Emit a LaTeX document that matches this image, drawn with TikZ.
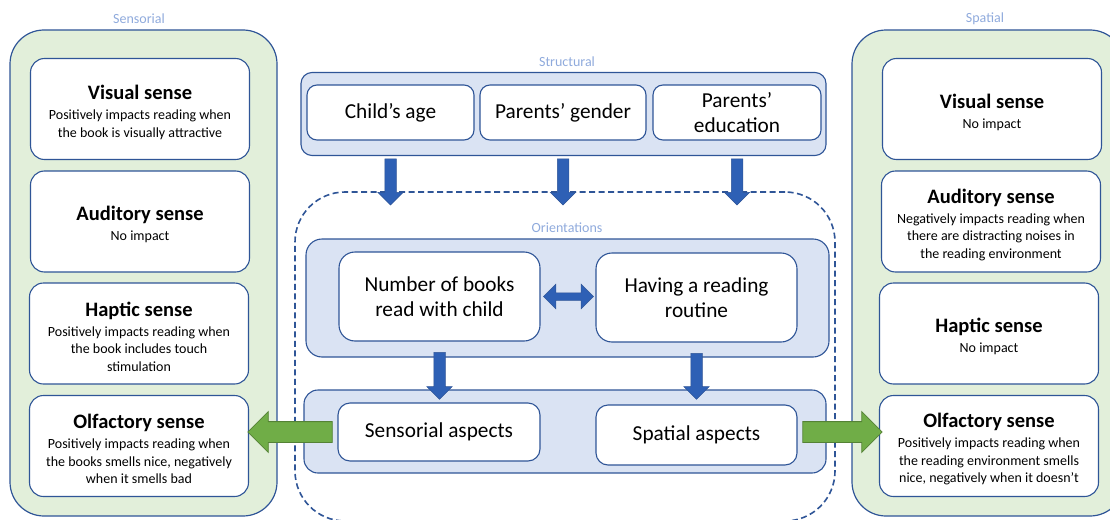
\documentclass[tikz,border=0pt]{standalone}
\usepackage{fontspec}
\setmainfont{Carlito}
\usetikzlibrary{shapes.arrows,calc}

\definecolor{panelgreen}{HTML}{E2EFDA}
\definecolor{groupblue}{HTML}{DAE3F3}
\definecolor{edgeblue}{HTML}{2F5597}
\definecolor{labelblue}{HTML}{8FAADC}
\definecolor{arrowblue}{HTML}{2E60B5}
\definecolor{arrowgreen}{HTML}{70AD47}
\definecolor{arrowgreenedge}{HTML}{548235}

\newcommand{\sensetitle}[1]{{\fontsize{20.5}{22}\selectfont\bfseries\rule{0pt}{21pt}#1}}

\tikzset{
  panel/.style={draw=edgeblue, fill=panelgreen, line width=1.2pt, rounded corners=34pt},
  group/.style={draw=edgeblue, fill=groupblue, line width=1.1pt, rounded corners=13pt, inner sep=0pt},
  cell/.style={draw=edgeblue, fill=white, line width=1.1pt, rounded corners=14pt, align=center, inner sep=0pt, font=\fontsize{21.3}{25}\selectfont},
  sensecell/.style={cell, minimum width=219pt, minimum height=101pt, font=\fontsize{14}{17.5}\selectfont},
  grouplabel/.style={text=labelblue, font=\fontsize{14}{16}\selectfont},
  orientframe/.style={draw=edgeblue, line width=1.6pt, dash pattern=on 6pt off 3.5pt, rounded corners=50pt, inner sep=0pt},
  blockarrow/.style={to path={let \p1=($(\tikztotarget)-(\tikztostart)$), \n1={veclen(\x1,\y1)}, \n2={atan2(\y1,\x1)} in
    node[#1, minimum height=\n1, rotate=\n2] at ($(\tikztostart)!.5!(\tikztotarget)$) {}}},
  bluearrow/.style={single arrow, fill=arrowblue, draw=edgeblue, line width=.5pt, inner xsep=0pt, inner ysep=5.5pt, single arrow head extend=7pt, minimum width=0pt},
  bluedarrow/.style={double arrow, fill=arrowblue, draw=edgeblue, line width=.5pt, inner xsep=0pt, inner ysep=3.5pt, double arrow head extend=8.5pt, minimum width=0pt},
  greenarrow/.style={single arrow, fill=arrowgreen, draw=arrowgreenedge, line width=.8pt, inner xsep=0pt, inner ysep=10pt, single arrow head extend=10pt, minimum width=0pt},
}

\begin{document}
\begin{tikzpicture}[x=1pt,y=-1pt]
\useasboundingbox (0,0) rectangle (1110,519);
\clip (0,0) rectangle (1110,519);

% side panels
\draw[panel] (10,30) rectangle (277,516);
\draw[panel] (852,30) rectangle (1124,516);
\node[grouplabel] (senslabel) at (139,19) {Sensorial};
\node[grouplabel] (spatlabel) at (985,19) {Spatial};

% senses, sensorial side
\node[sensecell] (lvis) at (140,109) {\sensetitle{Visual sense}\\[2.5pt]Positively impacts reading when\\the book is visually attractive};
\node[sensecell] (laud) at (140,221.5) {\sensetitle{Auditory sense}\\[2.5pt]No impact};
\node[sensecell] (lhap) at (139,333.5) {\sensetitle{Haptic sense}\\[2.5pt]Positively impacts reading when\\the book includes touch\\stimulation};
\node[sensecell] (lolf) at (139,446) {\sensetitle{Olfactory sense}\\[2.5pt]Positively impacts reading when\\the books smells nice, negatively\\when it smells bad};

% senses, spatial side
\node[sensecell] (rvis) at (992,109) {\sensetitle{Visual sense}\\[2.5pt]No impact};
\node[sensecell] (raud) at (991,221.5) {\sensetitle{Auditory sense}\\[2.5pt]Negatively impacts reading when\\there are distracting noises in\\the reading environment};
\node[sensecell] (rhap) at (989,333.5) {\sensetitle{Haptic sense}\\[2.5pt]No impact};
\node[sensecell] (rolf) at (989,446) {\sensetitle{Olfactory sense}\\[2.5pt]Positively impacts reading when\\the reading environment smells\\nice, negatively when it doesn’t};

% structural factors
\node[grouplabel] (structlabel) at (567,62) {Structural};
\node[group, minimum width=525pt, minimum height=83pt, rounded corners=11pt] (struct) at (563.5,114) {};
\node[cell, minimum width=167pt, minimum height=55pt, rounded corners=10pt] (age) at (390.5,112.5) {Child’s age};
\node[cell, minimum width=166pt, minimum height=55pt, rounded corners=10pt] (gender) at (563,112.5) {Parents’ gender};
\node[cell, minimum width=168pt, minimum height=55pt, rounded corners=10pt] (edu) at (737,112.5) {Parents’\\education};

% orientations
\node[orientframe, minimum width=540pt, minimum height=329pt] (orient) at (565,356.5) {};
\node[grouplabel] (orientlabel) at (567,228) {Orientations};
\node[group, minimum width=523pt, minimum height=118pt, rounded corners=16pt] (habits) at (567.5,298) {};
\node[cell, minimum width=201pt, minimum height=89pt, rounded corners=16pt] (books) at (439.5,296.5) {Number of books\\read with child};
\node[cell, minimum width=201pt, minimum height=89pt, rounded corners=16pt] (routine) at (696.5,297.5) {Having a reading\\routine};
\node[group, minimum width=522pt, minimum height=83pt, rounded corners=14pt] (aspects) at (565,431.5) {};
\node[cell, minimum width=202pt, minimum height=58pt, rounded corners=12pt] (sens) at (439,432) {Sensorial aspects};
\node[cell, minimum width=201pt, minimum height=60pt, rounded corners=12pt] (spat) at (696.5,435) {Spatial aspects};

% arrows
\foreach \n in {age,gender,edu}
  \path (\n |- struct.south) to[blockarrow=bluearrow] ($(\n |- orient.north)+(0,11)$);
\path ([xshift=3pt]books.east) to[blockarrow=bluedarrow] ([xshift=-2pt]books.east -| routine.west);
\path ($(books.south)+(0,8)$) to[blockarrow=bluearrow] ($(books |- aspects.north)+(0,7)$);
\path ($(routine.south)+(0,8)$) to[blockarrow=bluearrow] ($(routine |- aspects.north)+(0,7)$);
\path (sens.west) to[blockarrow=greenarrow] ([xshift=4pt]lolf.east |- sens.west);
\path (spat.east |- sens.west) to[blockarrow=greenarrow] ([xshift=-2pt]rolf.west |- sens.west);
\end{tikzpicture}
\end{document}
